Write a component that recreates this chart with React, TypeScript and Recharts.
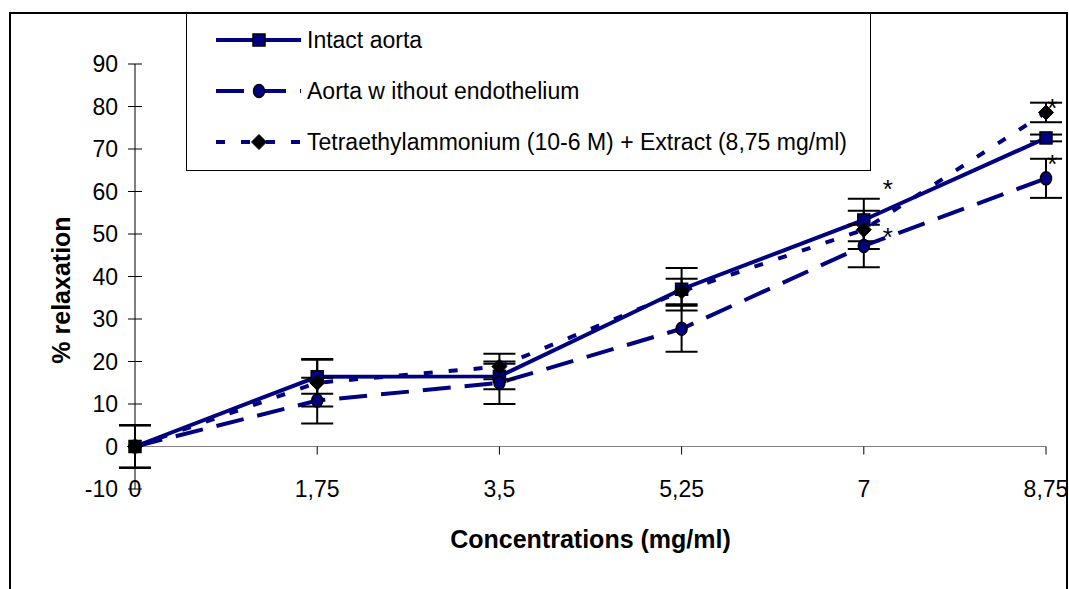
import React from 'react';
import { ComposedChart, Line, XAxis, YAxis, ErrorBar, ReferenceLine, ReferenceDot } from 'recharts';

const concentrations = [0, 1.75, 3.5, 5.25, 7, 8.75];
const xTickLabels = ['0', '1,75', '3,5', '5,25', '7', '8,75'];
const yTicks = [-10, 0, 10, 20, 30, 40, 50, 60, 70, 80, 90];

const intact = [0, 16.4, 16.5, 37, 53.3, 72.6];
const intactErr = [5, 4, 3, 5, 5, 0.8];
const withoutEndo = [0, 10.8, 15, 27.7, 47.2, 63.1];
const withoutEndoErr = [5, 5.4, 5, 5.4, 5, 4.6];
const tea = [0, 15, 18.8, 36.5, 51, 78.6];
const teaErr = [5, 5.6, 3, 3, 4.5, 2.3];

const seriesNames = [
  'Intact aorta',
  'Aorta w ithout endothelium',
  'Tetraethylammonium (10-6 M) + Extract (8,75 mg/ml)',
];

// significance asterisks, in data units
const stars = [
  { x: 7.23, y: 62 },
  { x: 7.23, y: 50.8 },
  { x: 8.81, y: 81 },
  { x: 8.81, y: 68 },
];

const rows = concentrations.map((c, i) => ({
  c,
  intact: intact[i],
  intactErr: intactErr[i],
  withoutEndo: withoutEndo[i],
  withoutEndoErr: withoutEndoErr[i],
  tea: tea[i],
  teaErr: teaErr[i],
}));

const NAVY = '#000080';
const FONT = "'Liberation Sans', Arial, sans-serif";

const Square = ({ cx, cy }: any) => (
  <rect x={cx - 6} y={cy - 6} width={12} height={12} fill={NAVY} stroke="#000" strokeWidth={1.5} />
);
const Circle = ({ cx, cy }: any) => (
  <ellipse cx={cx} cy={cy} rx={5.5} ry={6.5} fill={NAVY} stroke="#000" strokeWidth={1.5} />
);
const Diamond = ({ cx, cy }: any) => (
  <polygon points={`${cx},${cy - 7.5} ${cx + 7.5},${cy} ${cx},${cy + 7.5} ${cx - 7.5},${cy}`} fill="#000" stroke="#000" />
);

const series = [
  { key: 'intact', name: seriesNames[0], dash: undefined, Marker: Square },
  { key: 'withoutEndo', name: seriesNames[1], dash: '28 14', Marker: Circle },
  { key: 'tea', name: seriesNames[2], dash: '9 16', Marker: Diamond },
];

const YTick = ({ x, y, payload }: any) => (
  <g>
    <line x1={x - 7} x2={x + 7} y1={y} y2={y} stroke="#000" strokeWidth={1} />
    <text x={x - 17} y={y} dy={8} textAnchor="end" fontSize={23} fontFamily={FONT} fill="#000">
      {payload.value}
    </text>
  </g>
);

const XTick = ({ x, y, payload, index }: any) => (
  <text x={x} y={y} dy={8} textAnchor="middle" fontSize={23} fontFamily={FONT} fill="#000">
    {xTickLabels[index] ?? payload.value}
  </text>
);

const LegendBox = () => (
  <div
    style={{
      position: 'absolute',
      left: 186,
      top: 14,
      width: 685,
      height: 157,
      borderLeft: '1px solid #000',
      borderRight: '1px solid #000',
      borderBottom: '1px solid #000',
      boxSizing: 'border-box',
      background: '#fff',
    }}
  >
    {series.map((s, i) => (
      <div
        key={s.key}
        style={{ position: 'absolute', left: 0, top: 26 + i * 51 - 20, height: 40, display: 'flex', alignItems: 'center' }}
      >
        <svg width={120} height={40} style={{ display: 'block' }}>
          <line x1={29} x2={114} y1={20} y2={20} stroke={NAVY} strokeWidth={4} strokeDasharray={s.dash} />
          <s.Marker cx={72} cy={20} />
        </svg>
        <span style={{ fontFamily: FONT, fontSize: 23, color: '#000', whiteSpace: 'nowrap' }}>{s.name}</span>
      </div>
    ))}
  </div>
);

export default function App() {
  return (
    <div style={{ position: 'relative', width: 1069, height: 589, overflow: 'hidden', background: '#fff' }}>
      <style>{'body{margin:0;overflow:hidden}'}</style>
      <div
        style={{
          position: 'absolute',
          left: 9,
          top: 12,
          width: 1059,
          height: 620,
          border: '2px solid #000',
          boxSizing: 'border-box',
        }}
      />
      <div style={{ position: 'absolute', left: 0, top: 0 }}>
        <ComposedChart width={1069} height={589} data={rows} margin={{ top: 64, right: 23, left: 75, bottom: 70 }}>
          <XAxis
            type="number"
            dataKey="c"
            domain={[0, 8.75]}
            ticks={concentrations}
            axisLine={false}
            tickLine={false}
            tickSize={0}
            tickMargin={0}
            height={30}
            interval={0}
            tick={<XTick />}
            label={{
              content: ({ viewBox }: any) => (
                <text
                  x={viewBox.x + viewBox.width / 2}
                  y={548}
                  textAnchor="middle"
                  fontSize={25}
                  fontWeight="bold"
                  fontFamily={FONT}
                  fill="#000"
                >
                  Concentrations (mg/ml)
                </text>
              ),
            }}
          />
          <YAxis
            type="number"
            domain={[-10, 90]}
            ticks={yTicks}
            width={60}
            axisLine={{ stroke: '#000', strokeWidth: 1 }}
            tickLine={false}
            tickSize={0}
            tickMargin={0}
            interval={0}
            tick={<YTick />}
            label={{
              content: () => (
                <text
                  x={62}
                  y={290}
                  dy={8}
                  transform="rotate(-90, 62, 290)"
                  textAnchor="middle"
                  fontSize={25}
                  fontWeight="bold"
                  fontFamily={FONT}
                  fill="#000"
                >
                  % relaxation
                </text>
              ),
            }}
          />
          <ReferenceLine y={0} stroke="#808080" strokeWidth={1} />
          {concentrations.map((c) => (
            <ReferenceLine
              key={c}
              segment={[
                { x: c, y: 0 },
                { x: c, y: -1.9 },
              ]}
              stroke="#000"
              strokeWidth={1}
            />
          ))}
          {series.map((s) => (
            <Line
              key={s.key}
              dataKey={s.key}
              name={s.name}
              type="linear"
              stroke={NAVY}
              strokeWidth={4}
              strokeDasharray={s.dash}
              dot={(p: any) => <s.Marker key={`${s.key}-${p.index}`} cx={p.cx} cy={p.cy} />}
              activeDot={false}
              isAnimationActive={false}
            >
              <ErrorBar dataKey={`${s.key}Err`} width={16} stroke="#000" strokeWidth={2} direction="y" isAnimationActive={false} />
            </Line>
          ))}
          {stars.map((st, i) => (
            <ReferenceDot
              key={i}
              x={st.x}
              y={st.y}
              r={0}
              ifOverflow="visible"
              shape={(p: any) => (
                <text x={p.cx} y={p.cy + 15} textAnchor="middle" fontSize={26} fontFamily={FONT} fill="#000">
                  *
                </text>
              )}
            />
          ))}
        </ComposedChart>
      </div>
      <LegendBox />
    </div>
  );
}
